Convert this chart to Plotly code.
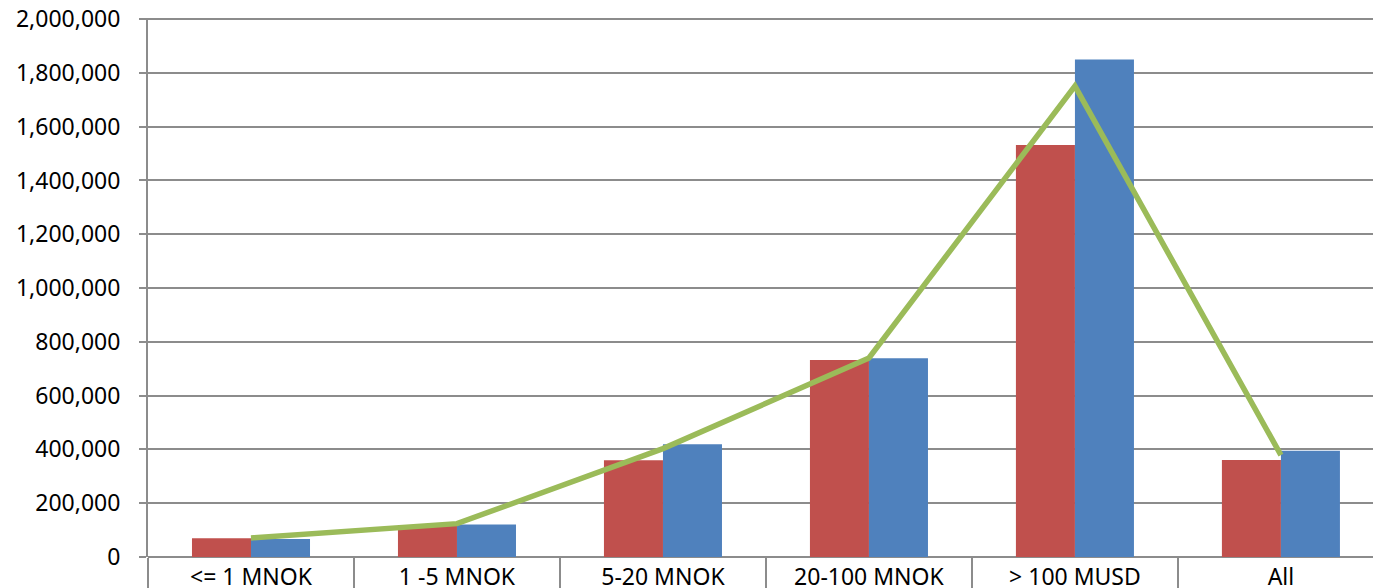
import plotly.graph_objects as go

categories = ["<= 1 MNOK", "1 -5 MNOK", "5-20 MNOK", "20-100 MNOK", "> 100 MUSD", "All"]
red_values = [70000, 119000, 360000, 732000, 1532000, 361000]
blue_values = [67000, 121000, 419000, 739000, 1850000, 395000]
line_values = [71000, 124000, 403000, 740000, 1751000, 379000]
y_ticks = list(range(0, 2000001, 200000))

RED = "#C0504D"
BLUE = "#4F81BD"
GREEN = "#9BBB59"
GRID = "#8C8C8C"
FONT = "Noto Sans"

fig = go.Figure()
fig.add_trace(go.Bar(x=categories, y=red_values, marker=dict(color=RED, line=dict(width=0)), showlegend=False, hoverinfo="skip"))
fig.add_trace(go.Bar(x=categories, y=blue_values, marker=dict(color=BLUE, line=dict(width=0)), showlegend=False, hoverinfo="skip"))
fig.add_trace(go.Scatter(x=categories, y=line_values, mode="lines", line=dict(color=GREEN, width=5.5), showlegend=False, hoverinfo="skip"))
# invisible trace on the label axis
fig.add_trace(go.Scatter(x=categories, y=[0]*len(categories), xaxis="x2", mode="markers", marker=dict(opacity=0), showlegend=False, hoverinfo="skip"))

xr = [-0.5, 5.447]
fig.update_layout(
    width=1373, height=588,
    margin=dict(l=148, r=0, t=18, b=31, autoexpand=False),
    paper_bgcolor="white", plot_bgcolor="white",
    barmode="group", bargap=0.427, bargroupgap=0,
    font=dict(family=FONT, size=23, color="#000000"),
    xaxis=dict(type="category", range=xr, tickson="boundaries", ticks="outside", ticklen=34,
               tickwidth=2, tickcolor=GRID, showticklabels=False, showgrid=False,
               showline=False, zeroline=False, layer="above traces", automargin=False),
    xaxis2=dict(type="category", range=xr, overlaying="x", side="bottom", matches="x",
                ticks="", showgrid=False, showline=False, zeroline=False, automargin=False,
                ticklabelstandoff=4, ticklabeloverflow="allow",
                tickfont=dict(family=FONT, size=23, color="#000000")),
    yaxis=dict(range=[0, 2004000], tickvals=y_ticks, tickformat=",d", showgrid=True,
               gridcolor=GRID, gridwidth=2, zeroline=True, zerolinecolor=GRID, zerolinewidth=2,
               showline=True, linecolor=GRID, linewidth=2, ticks="outside", ticklen=7,
               tickwidth=2, tickcolor=GRID, ticklabelstandoff=14, automargin=False,
               ticklabeloverflow="allow",
               tickfont=dict(family=FONT, size=23, color="#000000")),
)

fig.write_html(
    "out.html",
    config={"displayModeBar": False, "staticPlot": True},
    post_script="document.body.style.margin='0';document.body.style.overflow='hidden';",
)
